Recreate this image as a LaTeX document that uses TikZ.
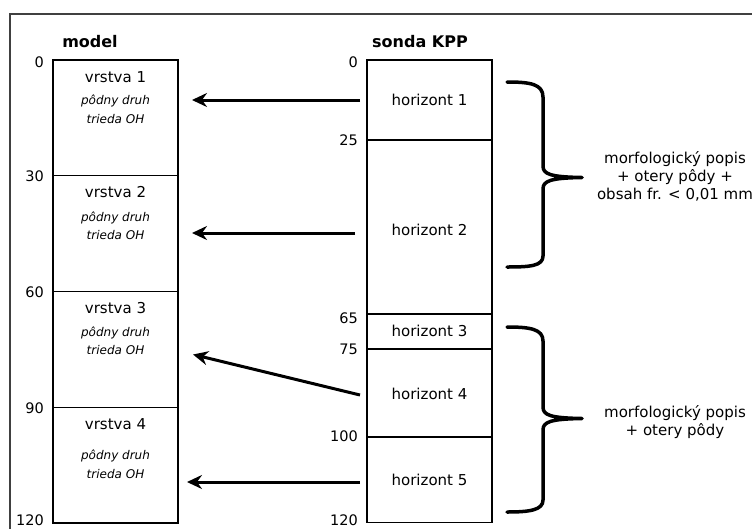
\documentclass[tikz,border=0pt]{standalone}
\usepackage{fontspec}
\setmainfont{DejaVu Sans}
\usetikzlibrary{arrows.meta}
\begin{document}
\begin{tikzpicture}[x=1pt,y=-1pt,
  lay/.style={draw, line width=1.4pt, minimum width=125pt, anchor=north west, inner sep=0pt, outer sep=0pt},
  title/.style={font=\fontsize{16}{19}\selectfont\bfseries},
  lbl/.style={font=\fontsize{15}{18}\selectfont, inner sep=0pt},
  sub/.style={font=\fontsize{12}{14}\selectfont\itshape, inner sep=0pt},
  num/.style={font=\fontsize{14.5}{17}\selectfont, anchor=east, inner sep=0pt},
  side/.style={font=\fontsize{15}{18}\selectfont, align=center, inner sep=0pt},
  arr/.style={line width=3pt, -{Stealth[length=15pt,width=14pt,inset=5pt]}},
  brace/.style={line width=3.5pt, line cap=round, line join=round}]
\useasboundingbox (0,0) rectangle (752,528);
\clip (0,0) rectangle (752,528);
\draw[black!75, line width=2pt] (9.5,13.5) rectangle (800,600);

% model column
\node[title] (tm) at (90,42) {model};
\node[lay, minimum height=115.75pt] (v1) at (53,60) {};
\node[lay, minimum height=115.75pt] (v2) at (53,175.75) {};
\node[lay, minimum height=115.75pt] (v3) at (53,291.5) {};
\node[lay, minimum height=115.75pt] (v4) at (53,407.25) {};
\foreach \n/\y in {0/62,30/176,60/292,90/408,120/520}
  \node[num] (m\n) at (44,\y) {\n};

\node[lbl] (v1t) at (115.5,77) {vrstva 1};
\node[sub] (v1a) at (115.5,101) {pôdny druh};
\node[sub] (v1b) at (115.5,119) {trieda OH};
\node[lbl] (v2t) at (115.5,192) {vrstva 2};
\node[sub] (v2a) at (115.5,218) {pôdny druh};
\node[sub] (v2b) at (115.5,235) {trieda OH};
\node[lbl] (v3t) at (115.5,308) {vrstva 3};
\node[sub] (v3a) at (115.5,333) {pôdny druh};
\node[sub] (v3b) at (115.5,350) {trieda OH};
\node[lbl] (v4t) at (115.5,424) {vrstva 4};
\node[sub] (v4a) at (115.5,456) {pôdny druh};
\node[sub] (v4b) at (115.5,474) {trieda OH};

% sonda column
\node[title] (ts) at (420,42) {sonda KPP};
\node[lay, minimum height=80pt] (h1) at (367,60) {};
\node[lay, minimum height=174pt] (h2) at (367,140) {};
\node[lay, minimum height=35pt] (h3) at (367,314) {};
\node[lay, minimum height=88pt] (h4) at (367,349) {};
\node[lay, minimum height=85.5pt] (h5) at (367,437) {};
\node[lbl] (h1t) at (429.5,100) {horizont 1};
\node[lbl] (h2t) at (429.5,230) {horizont 2};
\node[lbl] (h3t) at (429.5,331) {horizont 3};
\node[lbl] (h4t) at (429.5,394) {horizont 4};
\node[lbl] (h5t) at (429.5,480) {horizont 5};
\foreach \n/\y in {0/62,25/140,65/318,75/349,100/436,120/520}
  \node[num] (s\n) at (358,\y) {\n};

% arrows
\coordinate (a1s) at (360,100);  \coordinate (a1e) at (192,100);
\coordinate (a2s) at (355,233);  \coordinate (a2e) at (192,233);
\coordinate (a3s) at (360,395);  \coordinate (a3e) at (193,354.5);
\coordinate (a4s) at (360,482);  \coordinate (a4e) at (187,482);
\draw[arr] (a1s) -- (a1e);
\draw[arr] (a2s) -- (a2e);
\draw[arr] (a3s) -- (a3e);
\draw[arr] (a4s) -- (a4e);

% braces
\draw[brace] (507,82) .. controls (530,82) and (543,84) .. (543,97) -- (543,166)
  .. controls (543,174) and (550,177) .. (582,177.5)
  .. controls (550,178) and (543,181) .. (543,189) -- (543,256)
  .. controls (543,266) and (530,267) .. (507,267);
\draw[brace] (507,327) .. controls (530,327) and (543,329) .. (543,341) -- (543,407)
  .. controls (543,415) and (550,418) .. (582,418.5)
  .. controls (550,419) and (543,422) .. (543,430) -- (543,500)
  .. controls (543,510) and (530,512) .. (507,512);

\node[side] (d1) at (675,176) {morfologický popis\\+ otery pôdy +\\obsah fr. < 0,01 mm};
\node[side] (d2) at (675,422) {morfologický popis\\+ otery pôdy};
\end{tikzpicture}
\end{document}
